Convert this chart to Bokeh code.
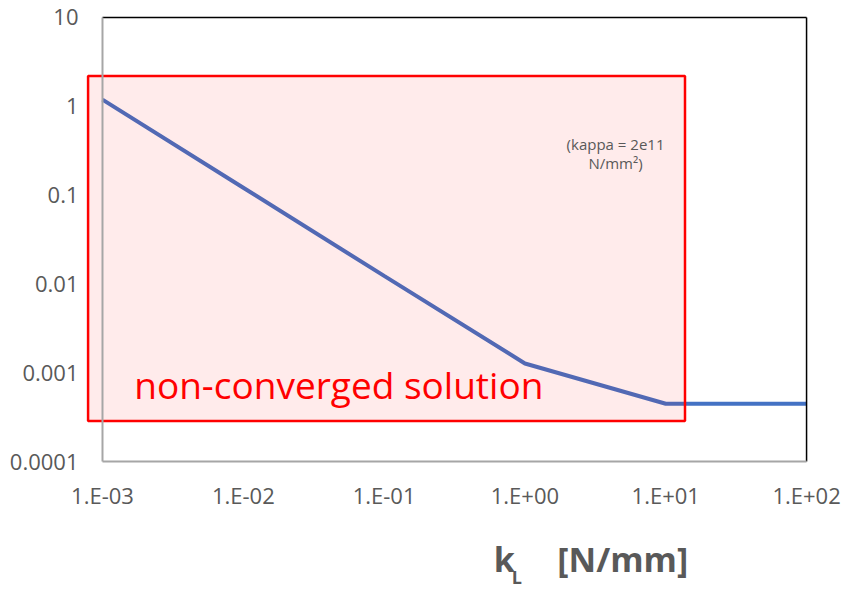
from bokeh.plotting import figure
from bokeh.layouts import column
from bokeh.models import Label, FixedTicker, CustomJSTickFormatter, Range1d
from bokeh.core.properties import value
from bokeh.embed import file_html
from bokeh.resources import INLINE

# ---- data ----
k_L = [1e-3, 1e-2, 1e-1, 1e0, 1e1, 1e2]
values = [1.19, 0.121, 0.0123, 0.00127, 0.000447, 0.000447]

x_ticks = [1e-3, 1e-2, 1e-1, 1e0, 1e1, 1e2]
x_tick_labels = ["1.E-03", "1.E-02", "1.E-01", "1.E+00", "1.E+01", "1.E+02"]
y_ticks = [1e-4, 1e-3, 1e-2, 1e-1, 1e0, 1e1]
y_tick_labels = ["0.0001", "0.001", "0.01", "0.1", "1", "10"]

# axis extents (data) and plotting frame with a small pad
x_min, x_max = 1e-3, 1e2
y_min, y_max = 1e-4, 10
frame_x = (10 ** -3.142, 10 ** 2.028)
frame_y = (10 ** -4.045, 10 ** 1.045)

# non-converged region (data coords)
box_left, box_right = 7.9e-4, 13.7
box_bottom, box_top = 2.86e-4, 2.19

FONT = "Open Sans"
GREY = "#595959"

p = figure(x_axis_type="log", y_axis_type="log",
           x_range=Range1d(*frame_x), y_range=Range1d(*frame_y),
           frame_width=728, frame_height=452,
           min_border_left=82, min_border_right=38, min_border_top=13,
           min_border_bottom=44,
           output_backend="svg", toolbar_location=None)

p.grid.visible = False
p.outline_line_color = None
p.background_fill_color = "white"
p.border_fill_color = "white"

fmt_code = """
let best = 0, bd = 1e9;
for (let i = 0; i < tv.length; i++) {
  const d = Math.abs(Math.log10(tick) - Math.log10(tv[i]));
  if (d < bd) { bd = d; best = i; }
}
return tl[best];
"""

for ax, tks, labels in ((p.xaxis[0], x_ticks, x_tick_labels),
                        (p.yaxis[0], y_ticks, y_tick_labels)):
    ax.ticker = FixedTicker(ticks=tks, minor_ticks=[])
    ax.formatter = CustomJSTickFormatter(args=dict(tv=tks, tl=labels), code=fmt_code)
    ax.major_tick_line_color = None
    ax.minor_tick_line_color = None
    ax.major_tick_out = 0
    ax.major_tick_in = 0
    ax.axis_line_color = None
    ax.major_label_text_font = FONT
    ax.major_label_text_font_size = "22px"
    ax.major_label_text_color = GREY

p.yaxis.major_label_standoff = 4
p.xaxis.major_label_standoff = 14

# data line
p.line(k_L, values, line_color="#4472C4", line_width=4)

# non-converged box (semi-transparent over the line)
p.quad(left=[box_left], right=[box_right], bottom=[box_bottom], top=[box_top],
       fill_color="red", fill_alpha=0.08, line_color="red", line_width=2.5)

# plot-area borders
p.line([x_min, x_max], [y_max, y_max], line_color="black", line_width=1.5)
p.line([x_max, x_max], [y_min, y_max], line_color="black", line_width=1.5)
p.line([x_min, x_min], [y_min, y_max], line_color="#a6a6a6", line_width=2)
p.line([x_min, x_max], [y_min, y_min], line_color="#a6a6a6", line_width=2)

p.add_layout(Label(x=1.68e-3, y=7.3e-4, text="non-converged solution",
                   text_font=FONT, text_font_size="37px", text_color="red",
                   text_baseline="alphabetic"))

p.add_layout(Label(x=4.4, y=0.38, text="(kappa = 2e11",
                   text_font=FONT, text_font_size="15px", text_color=GREY,
                   text_align="center", text_baseline="alphabetic"))
p.add_layout(Label(x=4.4, y=0.23, text="N/mm\u00b2)",
                   text_font=FONT, text_font_size="15px", text_color=GREY,
                   text_align="center", text_baseline="alphabetic"))

# ---- x-axis title strip: k_L   [N/mm] ----
title_parts = ["k", "L", "[N/mm]"]
title_x = [479, 500, 553]
title_y = [35, 17, 35]
title_sizes = ["34px", "18px", "34px"]

t = figure(width=848, height=81, x_range=Range1d(0, 848), y_range=Range1d(0, 81),
           min_border=0, x_axis_location=None, y_axis_location=None,
           output_backend="svg", toolbar_location=None)
t.grid.visible = False
t.outline_line_color = None
for txt, xx, yy, sz in zip(title_parts, title_x, title_y, title_sizes):
    t.text(x=[xx], y=[yy], text=[txt], text_font=value(FONT), text_font_size=sz,
           text_font_style="bold", text_color=GREY, text_baseline="alphabetic")

layout = column(p, t, spacing=0)
open("out.html", "w").write(file_html(layout, INLINE))
